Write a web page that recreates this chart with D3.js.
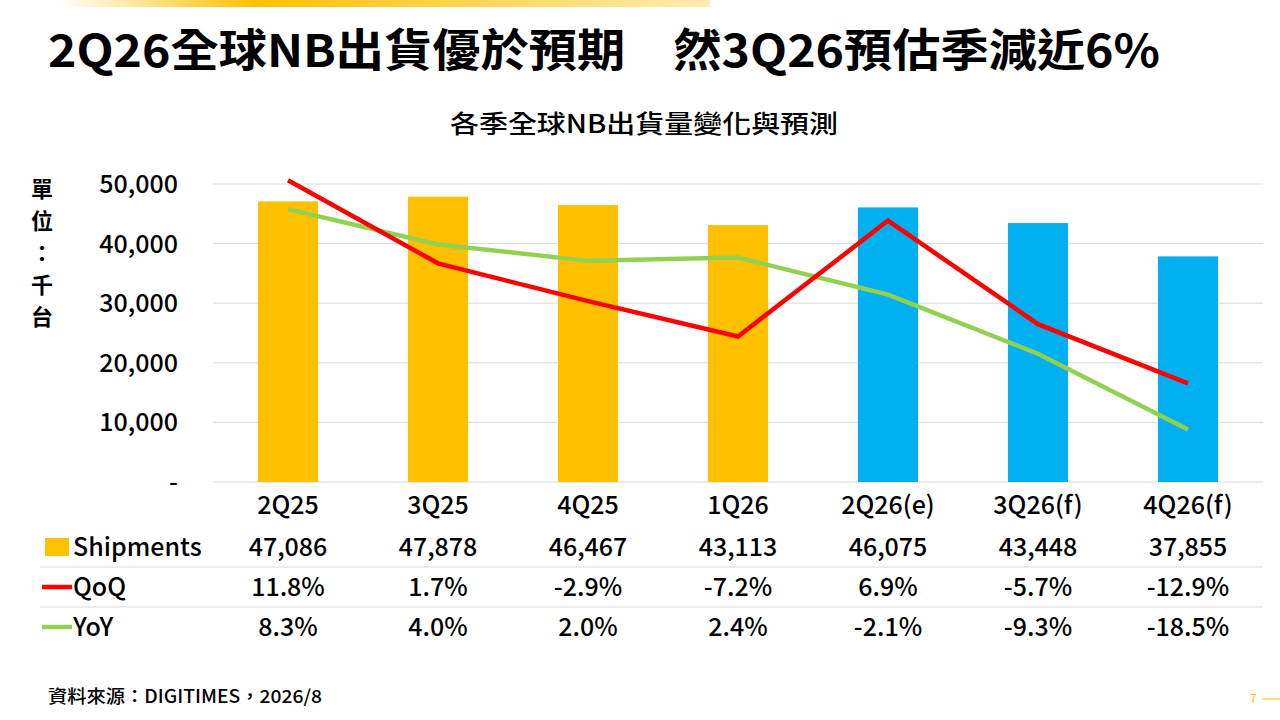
<!DOCTYPE html><html><head><meta charset="utf-8"><script src="https://cdn.jsdelivr.net/npm/d3@7"></script>
<style>body{margin:0;background:#fff}svg{display:block;font-family:"Noto Sans CJK TC","Noto Sans",sans-serif}</style></head><body><svg width="1280" height="720"></svg>
<script>
const categories=["2Q25","3Q25","4Q25","1Q26","2Q26(e)","3Q26(f)","4Q26(f)"];
const shipments=[47086,47878,46467,43113,46075,43448,37855];
const qoq=[11.8,1.7,-2.9,-7.2,6.9,-5.7,-12.9];
const yoy=[8.3,4.0,2.0,2.4,-2.1,-9.3,-18.5];
const forecast=[false,false,false,false,true,true,true];
const yTicks=[0,10000,20000,30000,40000,50000];
const svg=d3.select("svg");
const defs=svg.append("defs");
const g=defs.append("linearGradient").attr("id","tg");
g.append("stop").attr("offset","0").attr("stop-color","#fff");
g.append("stop").attr("offset","0.3").attr("stop-color","#FFC000");
g.append("stop").attr("offset","1").attr("stop-color","#FFC000").attr("stop-opacity","0.3");
svg.append("rect").attr("x",60).attr("y",0).attr("width",650).attr("height",7).attr("fill","url(#tg)");
svg.append("text").attr("x",48).attr("y",67).attr("font-size",45).attr("font-weight","bold").attr("textLength",1112).attr("lengthAdjust","spacingAndGlyphs").text("2Q26全球NB出貨優於預期　然3Q26預估季減近6%");
svg.append("text").attr("x",450).attr("y",133).attr("font-size",25).attr("font-weight","500").attr("textLength",388).attr("lengthAdjust","spacingAndGlyphs").text("各季全球NB出貨量變化與預測");

const x=d3.scaleBand().domain(categories).range([213,1263]);
const y=d3.scaleLinear().domain([0,50000]).range([482,184]);
const y2=d3.scaleLinear().domain([-24.9,11.35]).range([482,184]);
svg.append("g").selectAll("line").data(yTicks).join("line")
 .attr("x1",213).attr("x2",1263).attr("y1",d=>y(d)).attr("y2",d=>y(d)).attr("stroke","#d9d9d9").attr("stroke-width",1);
svg.append("g").selectAll("text").data(yTicks).join("text")
 .attr("x",178).attr("y",d=>y(d)+9).attr("text-anchor","end").attr("font-size",25).attr("font-weight","500")
 .text(d=>d===0?"-":d3.format(",")(d));
["單","位","：","千","台"].forEach((c,i)=>svg.append("text").attr("x",42).attr("y",197+i*32).attr("text-anchor","middle").attr("font-size",22).attr("font-weight","bold").text(c));
svg.append("g").selectAll("rect").data(shipments).join("rect")
 .attr("x",(d,i)=>x(categories[i])+x.bandwidth()/2-30).attr("width",60)
 .attr("y",d=>y(d)).attr("height",d=>y(0)-y(d)).attr("fill",(d,i)=>forecast[i]?"#00B0F0":"#FFC000");
const line=d3.line().x((d,i)=>x(categories[i])+x.bandwidth()/2).y(d=>y2(d));
svg.append("path").datum(yoy).attr("d",line).attr("fill","none").attr("stroke","#92D050").attr("stroke-width",4.5);
svg.append("path").datum(qoq).attr("d",line).attr("fill","none").attr("stroke","#FF0000").attr("stroke-width",4.5);
svg.append("g").selectAll("text").data(categories).join("text")
 .attr("x",d=>x(d)+x.bandwidth()/2).attr("y",514).attr("text-anchor","middle").attr("font-size",25).attr("font-weight","500").text(d=>d);
const rows=[{name:"Shipments",vals:shipments.map(d3.format(",")),color:"#FFC000",type:"rect"},
 {name:"QoQ",vals:qoq.map(d=>d.toFixed(1)+"%"),color:"#FF0000",type:"line"},
 {name:"YoY",vals:yoy.map(d=>d.toFixed(1)+"%"),color:"#92D050",type:"line"}];
rows.forEach((r,j)=>{
 const cy=547+j*40;
 if(r.type==="rect") svg.append("rect").attr("x",45).attr("y",cy-9).attr("width",24).attr("height",18).attr("fill",r.color);
 else svg.append("line").attr("x1",42).attr("x2",72).attr("y1",cy).attr("y2",cy).attr("stroke",r.color).attr("stroke-width",4.5);
 svg.append("text").attr("x",73).attr("y",cy+9).attr("font-size",25).attr("font-weight","500").text(r.name);
 r.vals.forEach((v,i)=>svg.append("text").attr("x",x(categories[i])+x.bandwidth()/2).attr("y",cy+9).attr("text-anchor","middle").attr("font-size",25).attr("font-weight","500").text(v));
 if(j<2) svg.append("line").attr("x1",40).attr("x2",1263).attr("y1",cy+20).attr("y2",cy+20).attr("stroke","#d9d9d9");
});
svg.append("text").attr("x",48).attr("y",703).attr("font-size",18).attr("font-weight","500").attr("textLength",274).attr("lengthAdjust","spacingAndGlyphs").text("資料來源：DIGITIMES，2026/8");
svg.append("text").attr("x",1250).attr("y",703).attr("font-size",12).attr("fill","#FFC000").text("7");
svg.append("line").attr("x1",1262).attr("x2",1280).attr("y1",699).attr("y2",699).attr("stroke","#FFC000");
</script></body></html>
